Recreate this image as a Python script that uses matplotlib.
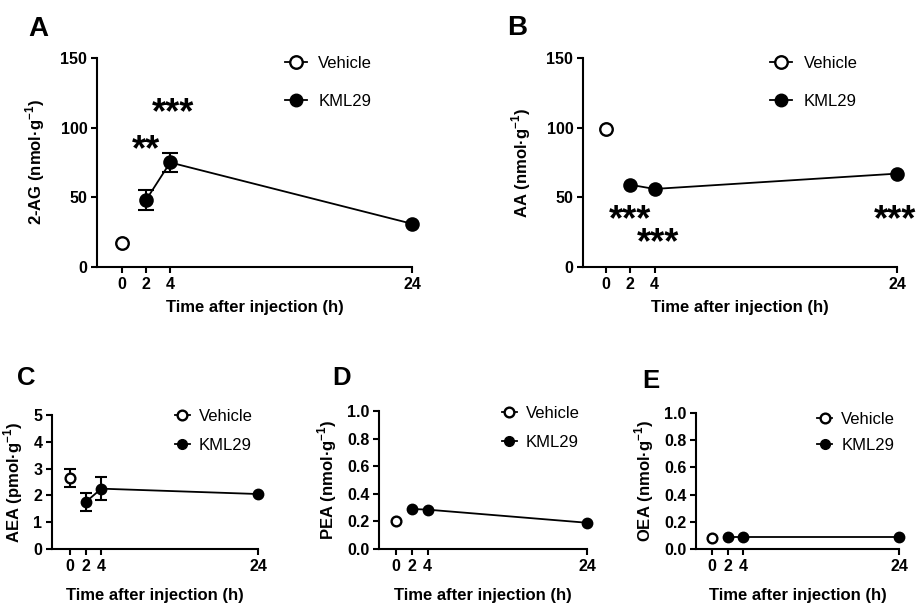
import numpy as np
import matplotlib.pyplot as plt
from matplotlib.lines import Line2D

plt.rcParams['font.family'] = ['Liberation Sans', 'DejaVu Sans']
plt.rcParams['mathtext.fontset'] = 'custom'
plt.rcParams['mathtext.rm'] = 'Liberation Sans'
plt.rcParams['mathtext.bf'] = 'Liberation Sans:bold'

# time points (h)
veh_time = [0]
kml_time = [2, 4, 24]
x_ticks = [0, 2, 4, 24]

# A: 2-AG (nmol/g)
ag_veh = [17]
ag_veh_err = [np.nan]
ag_kml = [48, 75, 31]
ag_kml_err = [7, 7, np.nan]

# B: AA (nmol/g)
aa_veh = [99]
aa_veh_err = [np.nan]
aa_kml = [59, 56, 67]
aa_kml_err = [np.nan, np.nan, np.nan]

# C: AEA (pmol/g)
aea_veh = [2.65]
aea_veh_err = [0.35]
aea_kml = [1.75, 2.25, 2.05]
aea_kml_err = [0.35, 0.43, np.nan]

# D: PEA (nmol/g)
pea_veh = [0.205]
pea_kml = [0.29, 0.285, 0.19]

# E: OEA (nmol/g)
oea_veh = [0.08]
oea_kml = [0.085, 0.085, 0.085]

# significance stars: (x, y baseline, text)
stars_a = [(2, 77, '**'), (4.2, 103, '***')]
stars_b = [(2, 26.5, '***'), (4.3, 10, '***'), (23.8, 26.5, '***')]

fig = plt.figure(figsize=(9.17, 6.04), dpi=100)

big_style = dict(ms=9, cap=6, tick_fs=11.5)
small_style = dict(ms=7, cap=4.5, tick_fs=11.5)

panels = [
    dict(rect=[0.1058, 0.558, 0.3435, 0.346], letter='A', lpos=(0.0414, 0.9404),
         ylabel=r'2-AG (nmol·g$^{\mathbf{-1}}$)', veh=ag_veh, veh_err=ag_veh_err,
         kml=ag_kml, kml_err=ag_kml_err, ylim=(0, 150), yticks=[0, 50, 100, 150],
         fmt='{:.0f}', stars=stars_a, style=big_style, xmin=-2.05, ylpad=10, xlpad=6,
         leg=dict(anchor=(0.597, 1.011), hl=1.3, htp=0.7, ls=1.4)),
    dict(rect=[0.6358, 0.558, 0.3424, 0.346], letter='B', lpos=(0.5638, 0.942),
         ylabel=r'AA (nmol·g$^{\mathbf{-1}}$)', veh=aa_veh, veh_err=aa_veh_err,
         kml=aa_kml, kml_err=aa_kml_err, ylim=(0, 150), yticks=[0, 50, 100, 150],
         fmt='{:.0f}', stars=stars_b, style=big_style, xmin=-1.9, ylpad=10, xlpad=6,
         leg=dict(anchor=(0.597, 1.011), hl=1.3, htp=0.7, ls=1.4)),
    dict(rect=[0.0567, 0.0911, 0.2246, 0.2219], letter='C', lpos=(0.0284, 0.3626),
         ylabel=r'AEA (pmol·g$^{\mathbf{-1}}$)', veh=aea_veh, veh_err=aea_veh_err,
         kml=aea_kml, kml_err=aea_kml_err, ylim=(0, 5), yticks=[0, 1, 2, 3, 4, 5],
         fmt='{:.0f}', stars=[], style=small_style, xmin=-2.3, ylpad=6, xlpad=10,
         leg=dict(anchor=(0.597, 1.045), hl=0.9, htp=0.55, ls=0.85)),
    dict(rect=[0.4133, 0.0911, 0.2268, 0.2285], letter='D', lpos=(0.373, 0.3626),
         ylabel=r'PEA (nmol·g$^{\mathbf{-1}}$)', veh=pea_veh, veh_err=[np.nan],
         kml=pea_kml, kml_err=[np.nan] * 3, ylim=(0, 1), yticks=[0, 0.2, 0.4, 0.6, 0.8, 1.0],
         fmt='{:.1f}', stars=[], style=small_style, xmin=-2.1, ylpad=6, xlpad=10,
         leg=dict(anchor=(0.59, 1.036), hl=0.9, htp=0.55, ls=0.85)),
    dict(rect=[0.759, 0.0911, 0.2214, 0.2252], letter='E', lpos=(0.71, 0.3576),
         ylabel=r'OEA (nmol·g$^{\mathbf{-1}}$)', veh=oea_veh, veh_err=[np.nan],
         kml=oea_kml, kml_err=[np.nan] * 3, ylim=(0, 1), yticks=[0, 0.2, 0.4, 0.6, 0.8, 1.0],
         fmt='{:.1f}', stars=[], style=small_style, xmin=-2.05, ylpad=6, xlpad=10,
         leg=dict(anchor=(0.596, 1.007), hl=0.9, htp=0.55, ls=0.65)),
]

for p in panels:
    ax = fig.add_axes(p['rect'])
    st = p['style']
    ms = st['ms']

    # KML29 line + error bars + markers
    ax.plot(kml_time, p['kml'], '-', color='k', lw=1.3, zorder=2, clip_on=False)
    ax.errorbar(kml_time, p['kml'], yerr=p['kml_err'], fmt='none', ecolor='k',
                elinewidth=1.5, capsize=st['cap'], capthick=1.5, zorder=2)
    ax.plot(kml_time, p['kml'], 'o', mfc='k', mec='k', ms=ms, mew=1.5,
            zorder=3, clip_on=False)
    # Vehicle
    ax.errorbar(veh_time, p['veh'], yerr=p['veh_err'], fmt='none', ecolor='k',
                elinewidth=1.5, capsize=st['cap'], capthick=1.5, zorder=2)
    ax.plot(veh_time, p['veh'], 'o', mfc='white', mec='k', ms=ms, mew=1.7,
            zorder=3, clip_on=False)

    for sx, sy, s in p['stars']:
        ax.text(sx, sy, s, ha='center', va='baseline', fontsize=26,
                fontweight='bold', clip_on=False)

    ax.set_xlim(p['xmin'], 24)
    ax.set_ylim(*p['ylim'])
    ax.set_xticks(x_ticks)
    ax.set_xticklabels([str(t) for t in x_ticks])
    ax.set_yticks(p['yticks'])
    ax.set_yticklabels([p['fmt'].format(v) for v in p['yticks']])
    for lab in ax.get_xticklabels() + ax.get_yticklabels():
        lab.set_fontweight('bold')
        lab.set_fontsize(st['tick_fs'])
    ax.tick_params(direction='out', length=4, width=1.5, pad=3)

    for side in ['top', 'right']:
        ax.spines[side].set_visible(False)
    for side in ['left', 'bottom']:
        ax.spines[side].set_linewidth(1.5)

    ax.set_xlabel('Time after injection (h)', fontsize=12, fontweight='bold', labelpad=p['xlpad'])
    ax.set_ylabel(p['ylabel'], fontsize=12, fontweight='bold', labelpad=p['ylpad'])

    handles = [
        Line2D([], [], color='k', lw=1.3, marker='o', mfc='white', mec='k', ms=ms, mew=1.7),
        Line2D([], [], color='k', lw=1.3, marker='o', mfc='k', mec='k', ms=ms),
    ]
    lg = p['leg']
    ax.legend(handles, ['Vehicle', 'KML29'], loc='upper left', bbox_to_anchor=lg['anchor'],
              frameon=False, fontsize=12, borderpad=0, borderaxespad=0,
              handlelength=lg['hl'], handletextpad=lg['htp'], labelspacing=lg['ls'])

    fig.text(p['lpos'][0], p['lpos'][1], p['letter'], fontsize=20 if p['letter'] in 'AB' else 18.5,
             fontweight='bold', ha='center', va='baseline')

fig.savefig('out.png', dpi=100)
